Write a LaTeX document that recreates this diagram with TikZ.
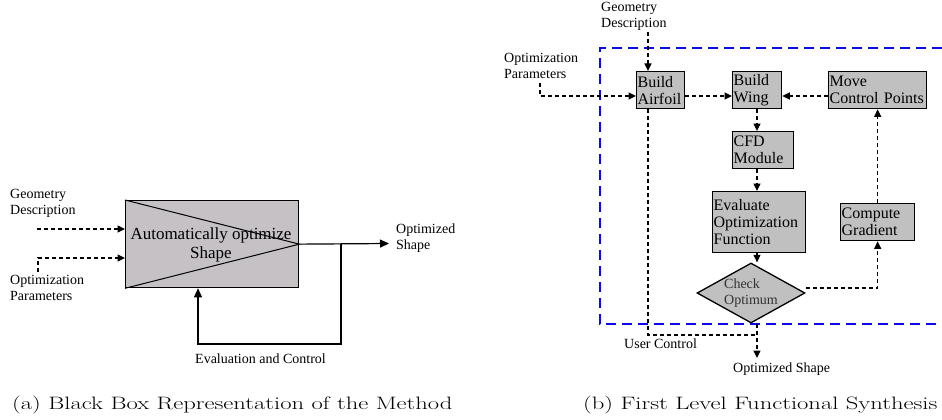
\documentclass[tikz,border=0pt]{standalone}
\usepackage{fontspec}
\newfontfamily\tnr{Liberation Serif}
\usetikzlibrary{arrows.meta,shapes.geometric,calc}
\definecolor{boxgray}{RGB}{192,192,192}
\definecolor{lgray}{RGB}{197,193,197}
\definecolor{frameblue}{RGB}{10,10,235}
\definecolor{txtgray}{RGB}{50,50,50}
\begin{document}
\begin{tikzpicture}[x=1pt,y=-1pt,
  conn/.style={draw, line width=1.1pt, dash pattern=on 4pt off 3pt, -{Triangle[length=7.5pt,width=7pt]}},
  connl/.style={draw, line width=1.1pt, dash pattern=on 4pt off 3pt},
  sconn/.style={draw, line width=1.2pt},
  fbox/.style={draw, line width=1.3pt, fill=boxgray, inner sep=1pt, align=left, anchor=north west, font=\tnr\fontsize{16}{17}\selectfont},
  lbl/.style={inner sep=0pt, align=left, anchor=base west, font=\tnr\fontsize{14}{16}\selectfont},
  captext/.style={inner sep=0pt, anchor=base west, font=\fontsize{24.6}{28}\selectfont},
  bframe/.style={draw=frameblue, line width=2pt, dash pattern=on 10pt off 6pt}
]
\useasboundingbox (0,0) rectangle (942,420);

% ---------------- (a) black box ----------------
\node[draw, line width=1.3pt, fill=lgray, minimum width=173pt, minimum height=87pt, inner sep=0pt, anchor=north west] (bb) at (125,200) {};
\node[inner sep=0pt, align=center, font=\tnr\fontsize{17}{19}\selectfont] (bbt) at (211,245) {Automatically optimize\\Shape};
\draw[line width=1pt] (bb.north west) -- (bb.east) -- (bb.south west);

\node[lbl] (gdl) at (10,214) {Geometry\\Description};
\node[lbl] (opl) at (10,300) {Optimization\\Parameters};
\node[lbl] (osl) at (396,249) {Optimized\\Shape};
\node[lbl] (evl) at (195,363) {Evaluation and Control};

\coordinate (gd) at (37,229);
\draw[conn] (gd) -- (gd -| bb.west);
\coordinate (op) at (38,272);
\coordinate (op2) at (38,258);
\draw[conn] (op) -- (op2) -- (op2 -| bb.west);

\coordinate (osa) at (389,243.5);
\draw[sconn, -{Triangle[length=9pt,width=8pt]}] (bb.east) -- (osa);
\coordinate (fb1) at (341,243.5);
\coordinate (fbc) at (198,344);
\draw[sconn, -{Triangle[length=9pt,width=8pt]}] (fb1) |- (fbc) -- (fbc |- bb.south);

% ---------------- (b) functional synthesis ----------------
\draw[bframe] (942,48) -- (600,48) -- (600,324) -- (942,324);

\node[fbox, text width=46pt, minimum height=37pt] (ba) at (636,71) {Build\\Airfoil};
\node[fbox, text width=47pt, minimum height=37pt] (bw) at (732,71) {Build\\Wing};
\node[fbox, text width=96pt, minimum height=37pt] (mcp) at (828,71) {Move\\Control Points};
\node[fbox, text width=59pt, minimum height=37pt] (cfd) at (732,131) {CFD\\Module};
\node[fbox, text width=91pt, minimum height=61pt] (ev) at (712,191) {Evaluate\\Optimization\\Function};
\node[fbox, text width=72pt, minimum height=37pt] (cg) at (840,203) {Compute\\Gradient};
\node[draw, diamond, fill=boxgray, line width=1.3pt, aspect=1.8, inner sep=0pt,
      minimum width=108pt, minimum height=60pt, align=left, text=txtgray,
      font=\tnr\fontsize{14}{15.5}\selectfont] (chk) at (751,293) {Check\\Optimum};

\node[lbl] (gdr) at (601,28) {Geometry\\Description};
\node[lbl] (opr) at (504,78) {Optimization\\Parameters};
\node[lbl] (ucl) at (624,348) {User Control};
\node[lbl] (osr) at (733,372) {Optimized Shape};

\coordinate (ar) at (0,96);
\coordinate (gin) at (648,32);
\draw[conn] (gin) -- (gin |- ba.north);
\coordinate (pin) at (540,83);
\coordinate (pin2) at (540,96);
\draw[conn] (pin) -- (pin2) -- (pin2 -| ba.west);
\draw[conn] (ar -| ba.east) -- (ar -| bw.west);
\draw[conn] (ar -| mcp.west) -- (ar -| bw.east);
\coordinate (vx) at (757,0);
\draw[conn] (vx |- bw.south) -- (vx |- cfd.north);
\draw[conn] (vx |- cfd.south) -- (vx |- ev.north);
\draw[conn] (vx |- ev.south) -- (vx |- chk.north);
\draw[conn] ([yshift=5pt]chk.east) -| (cg.south);
\draw[conn] (cg.north) -- (cg.north |- mcp.south);

\coordinate (uc) at (757,335);
\coordinate (osin) at (757,358);
\draw[connl] (gin |- ba.south) |- (uc);
\draw[conn] (vx |- chk.south) -- (osin);

% ---------------- captions ----------------
\node[captext] (capa) at (12,409) {\scalebox{1}[0.73]{(a) Black Box Representation of the Method}};
\node[captext] (capb) at (583,409) {\scalebox{1}[0.73]{(b) First Level Functional Synthesis}};
\end{tikzpicture}
\end{document}
